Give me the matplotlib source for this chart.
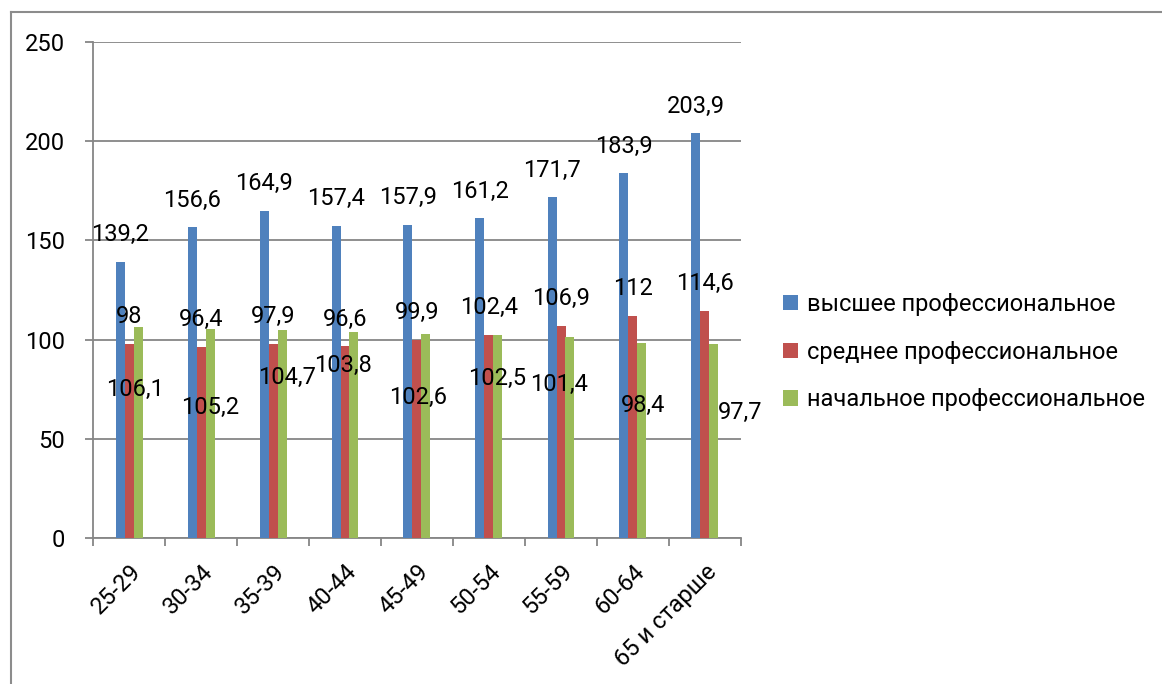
import matplotlib
matplotlib.use("Agg")
import matplotlib.pyplot as plt
import numpy as np
from matplotlib.lines import Line2D

categories = ["25-29", "30-34", "35-39", "40-44", "45-49", "50-54", "55-59", "60-64", "65 и старше"]
series_names = ["высшее профессиональное", "среднее профессиональное", "начальное профессиональное"]
higher = [139.2, 156.6, 164.9, 157.4, 157.9, 161.2, 171.7, 183.9, 203.9]
secondary = [98, 96.4, 97.9, 96.6, 99.9, 102.4, 106.9, 112, 114.6]
primary = [106.1, 105.2, 104.7, 103.8, 102.6, 102.5, 101.4, 98.4, 97.7]
y_ticks = [0, 50, 100, 150, 200, 250]

# manually placed label positions for the third series (category units, value units)
primary_label_x = [0.08, 1.13, 2.19, 2.97, 4.01, 5.11, 5.97, 7.14, 8.49]
primary_label_y = [75.1, 66.0, 81.1, 87.2, 70.6, 80.6, 77.6, 67.0, 63.5]

colors = ["#4F81BD", "#C0504D", "#9BBB59"]
FONT = ["Roboto", "DejaVu Sans"]
plt.rcParams["font.family"] = FONT
grid_c = "#868686"

W, H = 1162, 684
fig = plt.figure(figsize=(W / 100, H / 100), dpi=100)
ax = fig.add_axes([93 / W, 1 - 538 / H, (741 - 93) / W, (538 - 42) / H])

x = np.arange(len(categories))
bw = 0.125
series = [higher, secondary, primary]
for i, (vals, c) in enumerate(zip(series, colors)):
    ax.bar(x + (i - 1) * bw, vals, width=bw, color=c, label=series_names[i], zorder=3)

def fmt(v):
    return ("%g" % v).replace(".", ",")

fs = 17
for xi, v in zip(x, higher):
    ax.annotate(fmt(v), (xi - bw, v), xytext=(0, 19.5), textcoords="offset points",
                ha="center", va="center", fontsize=fs, zorder=5)
for xi, v in zip(x, secondary):
    ax.annotate(fmt(v), (xi, v), xytext=(0, 19.5), textcoords="offset points",
                ha="center", va="center", fontsize=fs, zorder=5)
for lx, ly, v in zip(primary_label_x, primary_label_y, primary):
    ax.text(lx, ly, fmt(v), ha="center", va="center", fontsize=fs, zorder=5)

ax.set_xlim(-0.5, len(categories) - 0.5)
ax.set_ylim(0, 250)
ax.set_yticks(y_ticks)
ax.set_yticklabels([str(t) for t in y_ticks], fontsize=fs)
ax.yaxis.grid(True, color=grid_c, linewidth=1.3, zorder=0)
ax.set_axisbelow(True)
ax.tick_params(axis="y", length=6, width=1.3, color=grid_c, pad=14)

ax.set_xticks(np.arange(len(categories) + 1) - 0.5, minor=False)
ax.set_xticklabels([])
ax.tick_params(axis="x", which="major", length=6, width=1.3, color=grid_c)
ax.set_xticks(x, minor=True)
ax.set_xticklabels(categories, minor=True, rotation=45, ha="right", rotation_mode="anchor", fontsize=fs)
ax.tick_params(axis="x", which="minor", length=0, pad=16)

for s in ["top", "right"]:
    ax.spines[s].set_visible(False)
for s in ["left", "bottom"]:
    ax.spines[s].set_color(grid_c)
    ax.spines[s].set_linewidth(1.3)

ax.legend(loc="center left", bbox_to_anchor=(783 / W, 1 - 352 / H), bbox_transform=fig.transFigure,
          frameon=False, fontsize=17, handlelength=0.62, handleheight=0.62, handletextpad=0.4,
          labelspacing=1.05, borderpad=0, borderaxespad=0)

# outer chart frame
fig.add_artist(Line2D([11 / W, 11 / W], [0, 1 - 12 / H], transform=fig.transFigure, color="#8c8c8c", linewidth=1.5))
fig.add_artist(Line2D([11 / W, 1], [1 - 12 / H, 1 - 12 / H], transform=fig.transFigure, color="#8c8c8c", linewidth=1.5))

fig.savefig("out.png", dpi=100)
